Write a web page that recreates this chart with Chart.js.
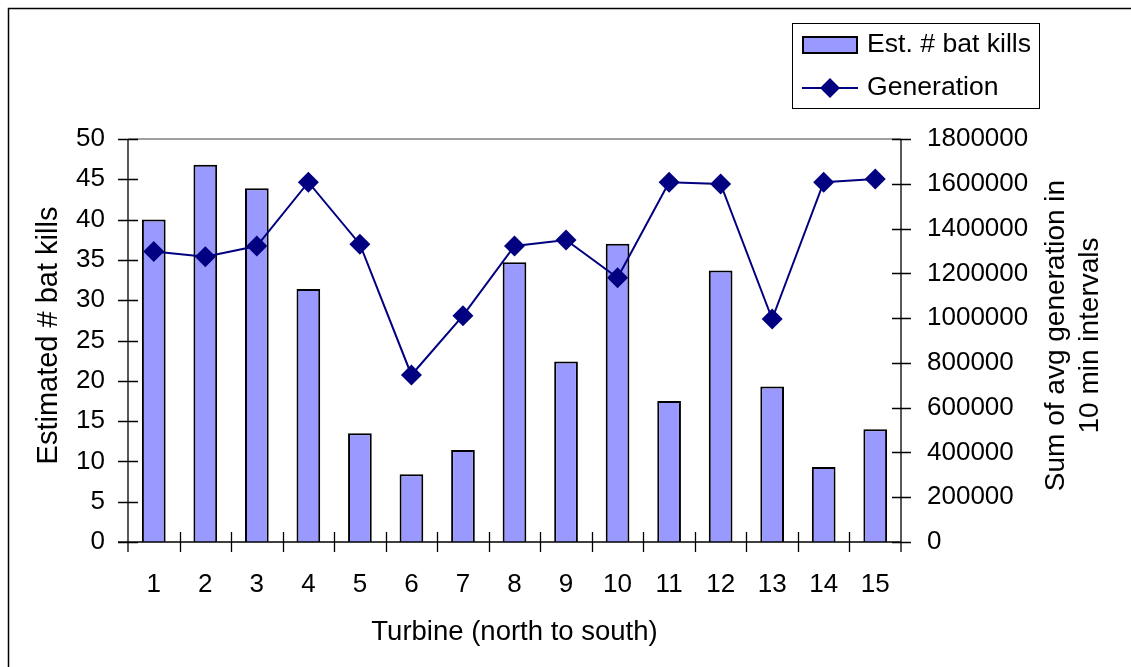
<!DOCTYPE html>
<html>
<head>
<meta charset="utf-8">
<script src="https://cdn.jsdelivr.net/npm/chart.js@4.4.1/dist/chart.umd.min.js"></script>
<style>
  html, body { margin: 0; padding: 0; background: #fff; }
  #wrap { position: relative; width: 1131px; height: 667px; }
</style>
</head>
<body>
<div id="wrap"><canvas id="chart" width="1131" height="667"></canvas></div>
<script>
/* Bat kills vs generation per turbine */
const TURBINES   = ['1','2','3','4','5','6','7','8','9','10','11','12','13','14','15'];
const BAT_KILLS  = [40, 46.8, 43.9, 31.4, 13.5, 8.4, 11.4, 34.7, 22.4, 37, 17.5, 33.7, 19.3, 9.3, 14.0];
const GENERATION = [1297000, 1274000, 1322000, 1607000, 1330000, 746000, 1011000,
                    1322000, 1349000, 1180000, 1607000, 1599000, 996000, 1607000, 1621000];

const LEGEND_LABELS = ['Est. # bat kills', 'Generation'];
const Y_TITLE  = 'Estimated # bat kills';
const Y1_TITLE = ['Sum of avg generation in', '10 min intervals'];
const X_TITLE  = 'Turbine (north to south)';

const FONT = '"Liberation Sans", Arial, sans-serif';
const BAR_FILL = '#9999ff';
const NAVY = '#000080';

/* ── Axes, crossing tick marks, outer frame ───────────────────────────── */
const framePlugin = {
  id: 'frame',
  afterDatasetsDraw(chart) {
    const { ctx, chartArea: a, scales } = chart;
    ctx.save();
    ctx.lineCap = 'butt';

    // outer chart border (left + top only visible)
    ctx.strokeStyle = '#000';
    ctx.lineWidth = 1.5;
    ctx.beginPath();
    ctx.moveTo(8.5, 667); ctx.lineTo(8.5, 8.5); ctx.lineTo(1131, 8.5);
    ctx.stroke();

    // top of plot area (grey)
    ctx.strokeStyle = '#808080';
    ctx.lineWidth = 1.5;
    ctx.beginPath();
    ctx.moveTo(a.left, a.top); ctx.lineTo(a.right, a.top);
    ctx.stroke();

    ctx.strokeStyle = '#000';
    ctx.lineWidth = 1.3;
    ctx.beginPath();
    // left, bottom, right axes
    ctx.moveTo(a.left, a.top); ctx.lineTo(a.left, a.bottom + 10);
    ctx.moveTo(a.left - 10, a.bottom); ctx.lineTo(a.right, a.bottom);
    ctx.moveTo(a.right, a.top); ctx.lineTo(a.right, a.bottom + 10);

    scales.y.ticks.forEach(t => {
      const py = Math.round(scales.y.getPixelForValue(t.value)) + 0.5;
      ctx.moveTo(a.left - 10, py); ctx.lineTo(a.left + 10, py);
    });
    scales.y1.ticks.forEach(t => {
      const py = Math.round(scales.y1.getPixelForValue(t.value)) + 0.5;
      ctx.moveTo(a.right - 9, py); ctx.lineTo(a.right + 10, py);
    });
    const n = TURBINES.length;
    for (let i = 1; i < n; i++) {
      const px = Math.round((scales.x.getPixelForTick(i - 1) + scales.x.getPixelForTick(i)) / 2) + 0.5;
      ctx.moveTo(px, a.bottom - 10); ctx.lineTo(px, a.bottom + 10);
    }
    ctx.stroke();
    ctx.restore();
  },
  afterDraw(chart) {
    const { ctx, chartArea: a } = chart;
    ctx.save();
    ctx.fillStyle = '#000';

    // x title
    ctx.font = `27.5px ${FONT}`;
    ctx.textAlign = 'center';
    ctx.textBaseline = 'middle';
    ctx.fillText(X_TITLE, (a.left + a.right) / 2, 632);

    // left title
    ctx.font = `29px ${FONT}`;
    ctx.textBaseline = 'alphabetic';
    ctx.save();
    ctx.translate(57, (a.top + a.bottom) / 2 - 5);
    ctx.rotate(-Math.PI / 2);
    ctx.fillText(Y_TITLE, 0, 0);
    ctx.restore();

    // right title (two lines, reading upwards)
    ctx.font = `28px ${FONT}`;
    ctx.save();
    ctx.translate(1064, (a.top + a.bottom) / 2 - 5);
    ctx.rotate(-Math.PI / 2);
    ctx.fillText(Y1_TITLE[0], 0, 0);
    ctx.fillText(Y1_TITLE[1], 0, 34);
    ctx.restore();

    // legend
    ctx.strokeStyle = '#000';
    ctx.lineWidth = 1;
    ctx.strokeRect(792.5, 23.5, 247, 85);
    ctx.fillStyle = BAR_FILL;
    ctx.fillRect(803, 37, 54, 16);
    ctx.lineWidth = 2;
    ctx.strokeRect(803, 37, 54, 16);

    ctx.strokeStyle = NAVY;
    ctx.lineWidth = 2;
    ctx.beginPath();
    ctx.moveTo(802, 88); ctx.lineTo(858, 88);
    ctx.stroke();
    ctx.fillStyle = NAVY;
    ctx.beginPath();
    ctx.moveTo(830, 78); ctx.lineTo(840, 88); ctx.lineTo(830, 98); ctx.lineTo(820, 88);
    ctx.closePath();
    ctx.fill();

    ctx.fillStyle = '#000';
    ctx.font = `26.6px ${FONT}`;
    ctx.textAlign = 'left';
    ctx.textBaseline = 'middle';
    ctx.fillText(LEGEND_LABELS[0], 867, 45);
    ctx.fillText(LEGEND_LABELS[1], 867, 88);
    ctx.restore();
  }
};

const tickFont = { family: FONT, size: 26 };

new Chart(document.getElementById('chart'), {
  type: 'bar',
  data: {
    labels: TURBINES,
    datasets: [
      {
        type: 'line',
        label: LEGEND_LABELS[1],
        data: GENERATION,
        yAxisID: 'y1',
        borderColor: NAVY,
        borderWidth: 2,
        backgroundColor: NAVY,
        pointStyle: 'rectRot',
        pointRadius: 10.5,
        pointBorderWidth: 0,
        pointBackgroundColor: NAVY,
        tension: 0,
        order: 0
      },
      {
        label: LEGEND_LABELS[0],
        data: BAT_KILLS,
        yAxisID: 'y',
        backgroundColor: BAR_FILL,
        borderColor: '#000',
        borderWidth: 2,
        borderSkipped: 'bottom',
        barPercentage: 0.46,
        categoryPercentage: 1,
        order: 1
      }
    ]
  },
  options: {
    responsive: false,
    animation: false,
    devicePixelRatio: 1,
    layout: { padding: { top: 139, left: 0, right: 0, bottom: 0 } },
    plugins: {
      legend: { display: false },
      tooltip: { enabled: false }
    },
    scales: {
      x: {
        offset: true,
        grid: { display: false, drawTicks: false },
        border: { display: false },
        ticks: { color: '#000', font: tickFont, padding: 27, maxRotation: 0, autoSkip: false },
        afterFit: s => { s.height = 125; }
      },
      y: {
        position: 'left',
        min: 0, max: 50,
        grid: { display: false, drawTicks: false },
        border: { display: false },
        ticks: { stepSize: 5, color: '#000', font: tickFont, padding: 23 },
        afterFit: s => { s.width = 128; }
      },
      y1: {
        position: 'right',
        min: 0, max: 1800000,
        grid: { display: false, drawTicks: false },
        border: { display: false },
        ticks: { stepSize: 200000, color: '#000', font: tickFont, padding: 26, callback: v => String(v) },
        afterFit: s => { s.width = 230; }
      }
    }
  },
  plugins: [framePlugin]
});
</script>
</body>
</html>
